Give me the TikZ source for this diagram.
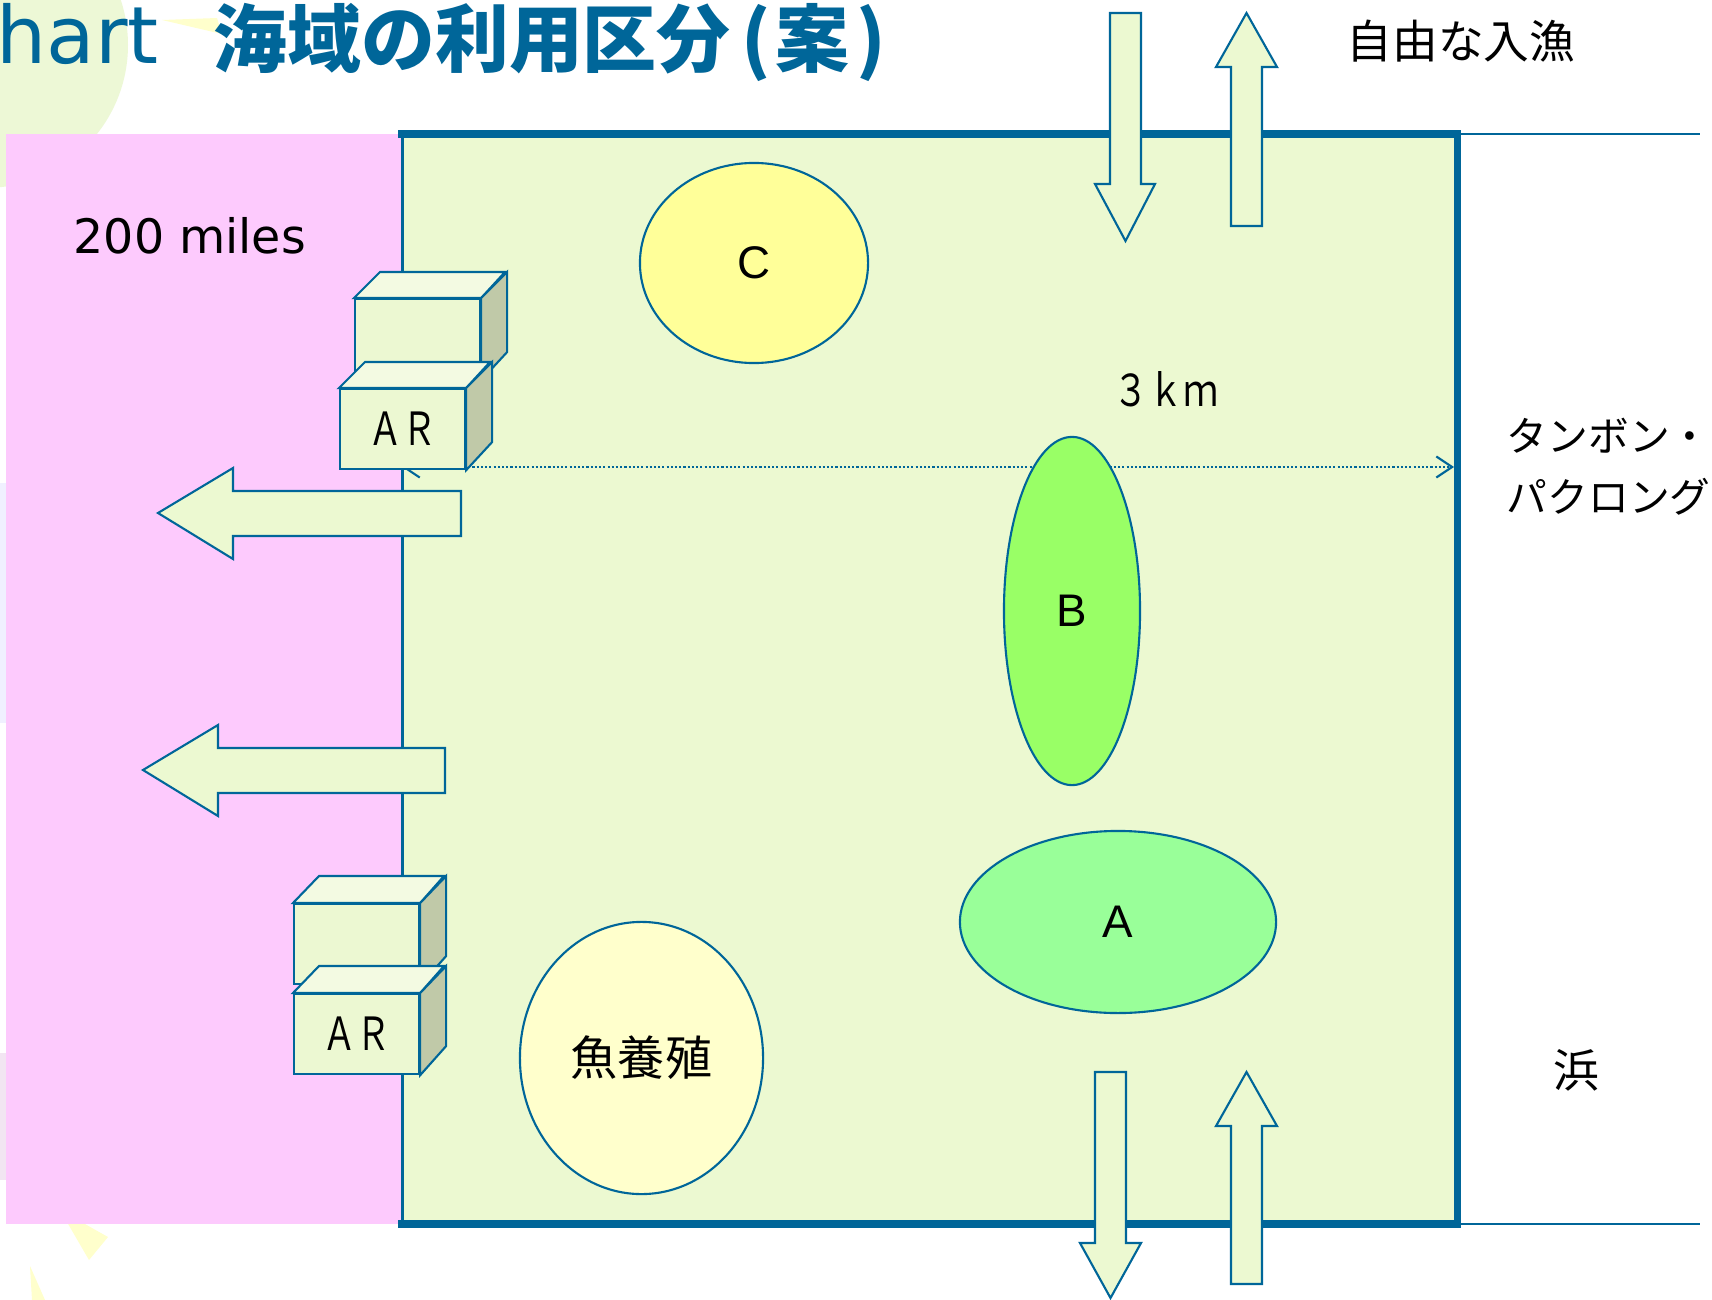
\documentclass[tikz,border=0pt]{standalone}
\usepackage{fontspec}
\usepackage{graphicx}
\usetikzlibrary{shapes.geometric,arrows.meta}
\newfontfamily\cjk{Noto Sans CJK JP}
\newfontfamily\dejavu{DejaVu Sans}
\newfontfamily\arialf{Liberation Sans}
\definecolor{bl}{RGB}{0,102,153}
\definecolor{pinkz}{RGB}{253,202,253}
\definecolor{greenz}{RGB}{236,249,209}
\definecolor{cfill}{RGB}{255,255,153}
\definecolor{bfill}{RGB}{153,255,102}
\definecolor{afill}{RGB}{153,255,153}
\definecolor{ffill}{RGB}{255,255,204}
\definecolor{arfront}{RGB}{236,248,210}
\definecolor{artop}{RGB}{243,250,226}
\definecolor{arside}{RGB}{192,201,168}
\definecolor{bgcirc}{RGB}{237,248,214}
\definecolor{bgyel}{RGB}{255,255,204}
\begin{document}
\begin{tikzpicture}[x=0.01cm,y=-0.01cm,
  outl/.style={draw=bl,line width=0.6pt},
  blockarrow/.style={outl,fill=greenz,line join=miter},
  zone/.style={ellipse,outl,inner sep=0pt,font={\arialf\fontsize{13pt}{15pt}\selectfont}},
  frontface/.style={rectangle,outl,fill=arfront,inner sep=0pt,minimum width=1.25cm,minimum height=0.8cm,anchor=north west,font={\cjk\fontsize{13pt}{15pt}\selectfont}},
  topface/.style={outl,fill=artop},
  sideface/.style={outl,fill=arside},
  jp/.style={inner sep=0pt,font={\cjk\fontsize{13pt}{15pt}\selectfont}}
]
\useasboundingbox (0,0) rectangle (1712,1300);
\clip (0,0) rectangle (1712,1300);
\fill[white] (0,0) rectangle (1712,1300);

% background decorations
\fill[bgcirc] (-15,45) circle (143);
\fill[bgyel] (162,20) -- (217,18) -- (222,34) -- cycle;
\fill[bgyel] (60,1210) -- (108,1237) -- (89,1260) -- cycle;
\fill[bgyel] (30,1266) -- (45,1300) -- (32,1300) -- cycle;
\fill[blue!6] (0,483) rectangle (8,723);
\fill[violet!10] (0,1053) rectangle (8,1180);

% zones
\fill[pinkz] (6,134) rectangle (402,1224);
\fill[greenz] (402,134) rectangle (1457,1224);
\draw[bl,line width=0.85pt] (402,134) -- (402,1224);
\draw[bl,line width=2pt] (398,134) -- (1457,134) -- (1457,1224) -- (398,1224);
\draw[bl,line width=0.6pt] (1457,134) -- (1700,134);
\draw[bl,line width=0.6pt] (1457,1224) -- (1700,1224);

% vertical block arrows
\draw[blockarrow] (1110,13) -- (1141,13) -- (1141,184) -- (1155,184) -- (1125.5,241) -- (1095,184) -- (1110,184) -- cycle;
\draw[blockarrow] (1246.5,13) -- (1277,67) -- (1262,67) -- (1262,226) -- (1231,226) -- (1231,67) -- (1216,67) -- cycle;
\draw[blockarrow] (1095,1072) -- (1126,1072) -- (1126,1243) -- (1141,1243) -- (1110.5,1298) -- (1080,1243) -- (1095,1243) -- cycle;
\draw[blockarrow] (1246.5,1072) -- (1277,1126) -- (1262,1126) -- (1262,1284) -- (1231,1284) -- (1231,1126) -- (1216,1126) -- cycle;

% 3 km dotted connector
\coordinate (dl) at (402,467);
\coordinate (dr) at (1454,467);
\draw[bl,line width=0.7pt,dash pattern=on 0.6pt off 0.6pt,
  {Straight Barb[length=4.5pt,width=6pt,line width=0.6pt]}-{Straight Barb[length=4.5pt,width=6pt,line width=0.6pt]}] (dl) -- (dr);

% zones ellipses
\node[zone,fill=cfill,minimum width=2.28cm,minimum height=2.0cm] (ellC) at (754,263) {C};
\node[zone,fill=bfill,minimum width=1.36cm,minimum height=3.48cm] (ellB) at (1072,611) {B};
\node[zone,fill=afill,minimum width=3.16cm,minimum height=1.82cm] (ellA) at (1118,922) {A};
\node[zone,fill=ffill,minimum width=2.43cm,minimum height=2.72cm,font={\cjk\fontsize{13.4pt}{15pt}\selectfont}] (ellF) at (641.5,1058) {魚養殖};

% left block arrows
\draw[blockarrow] (158,513) -- (233,468) -- (233,491) -- (461,491) -- (461,536) -- (233,536) -- (233,559) -- cycle;
\draw[blockarrow] (143,770) -- (218,725) -- (218,748) -- (445,748) -- (445,793) -- (218,793) -- (218,816) -- cycle;

% AR boxes (top pair)
\node[frontface] (ar1) at (354,298) {};
\draw[topface] (ar1.north west) -- ++(26,-26) -- ++(125,0) -- (ar1.north east) -- cycle;
\draw[sideface] (ar1.north east) -- ++(26,-26) -- ++(0,80) -- (ar1.south east) -- cycle;
\node[frontface] (ar2) at (339,388) {\scalebox{0.75}[1]{ＡＲ}};
\draw[topface] (ar2.north west) -- ++(26,-26) -- ++(125,0) -- (ar2.north east) -- cycle;
\draw[sideface] (ar2.north east) -- ++(26,-26) -- ++(0,80) -- (ar2.south east) -- cycle;

% AR boxes (bottom pair)
\node[frontface] (ar3) at (293,903) {};
\draw[topface] (ar3.north west) -- ++(26,-27) -- ++(125,0) -- (ar3.north east) -- cycle;
\draw[sideface] (ar3.north east) -- ++(26,-27) -- ++(0,80) -- (ar3.south east) -- cycle;
\node[frontface] (ar4) at (293,993) {\scalebox{0.75}[1]{ＡＲ}};
\draw[topface] (ar4.north west) -- ++(26,-27) -- ++(125,0) -- (ar4.north east) -- cycle;
\draw[sideface] (ar4.north east) -- ++(26,-27) -- ++(0,80) -- (ar4.south east) -- cycle;

% texts
\node[inner sep=0pt,anchor=base west,text=bl,font={\dejavu\fontsize{22.5pt}{26pt}\selectfont}] (title1) at (-4,64) {hart};
\node[inner sep=0pt,anchor=west,text=bl,font={\cjk\bfseries\fontsize{21pt}{24pt}\selectfont}] (title2) at (213,42) {海域の利用区分\kern3pt(\kern1.5pt案\kern2pt)};
\node[jp,anchor=west] (free) at (1346,41) {自由な入漁};
\node[inner sep=0pt,anchor=base west,font={\dejavu\fontsize{13.5pt}{16pt}\selectfont}] (miles) at (73,253) {200 miles};
\node[jp,font={\cjk\fontsize{12.5pt}{14pt}\selectfont}] (km) at (1166,389) {\scalebox{0.8}[1]{３ｋｍ}};
\node[jp,anchor=west,font={\cjk\fontsize{11.6pt}{14pt}\selectfont}] (tam1) at (1506,436) {タンボン・};
\node[jp,anchor=west,font={\cjk\fontsize{11.6pt}{14pt}\selectfont}] (tam2) at (1506,497) {パクロング};
\node[jp] (hama) at (1576,1070) {浜};
\end{tikzpicture}
\end{document}
